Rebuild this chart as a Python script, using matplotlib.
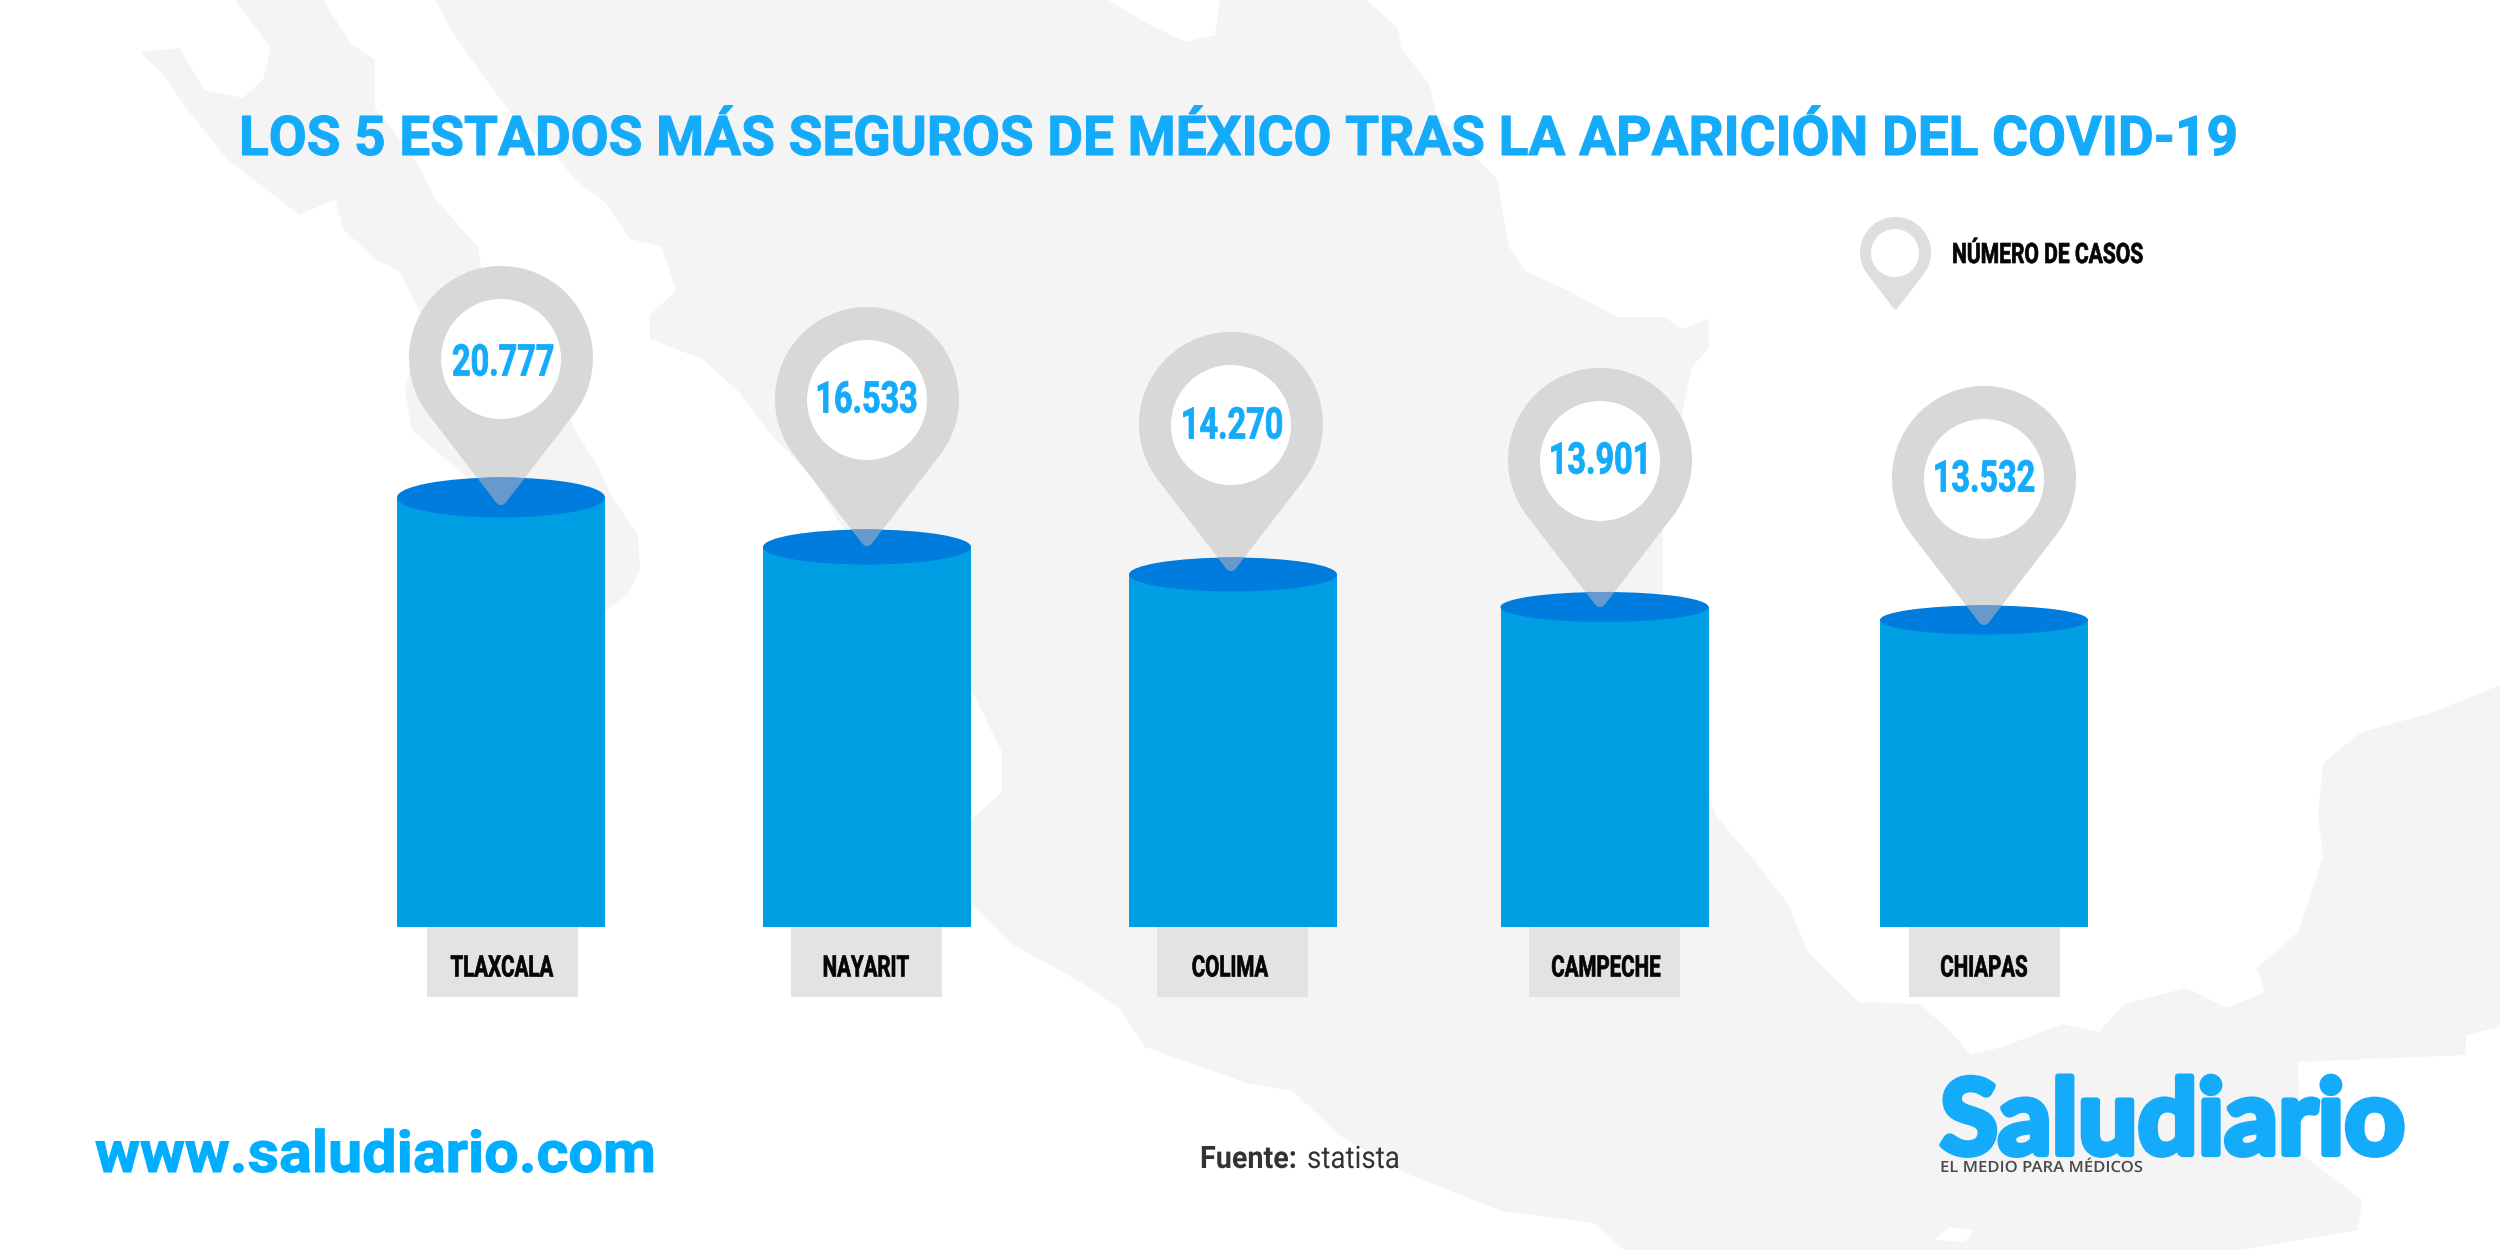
import numpy as np
import matplotlib
matplotlib.use("Agg")
import matplotlib.pyplot as plt
from matplotlib.patches import Ellipse, Circle, PathPatch, Polygon, Rectangle
from matplotlib.path import Path
from matplotlib.patheffects import AbstractPathEffect
from matplotlib.transforms import Affine2D

# ---------- data ----------
states = ["TLAXCALA", "NAYARIT", "COLIMA", "CAMPECHE", "CHIAPAS"]
cases = [20777, 16533, 14270, 13901, 13532]
drawn_bar_heights = [429.5, 380, 352.5, 320, 307]   # the source bars are not to scale with the cases

title = "LOS 5 ESTADOS MÁS SEGUROS DE MÉXICO TRAS LA APARICIÓN DEL COVID-19"
legend_label = "NÚMERO DE CASOS"
website = "www.saludiario.com"
source_bold, source_plain = "Fuente:", "statista"
brand, tagline = "Saludiario", "EL MEDIO PARA MÉDICOS"

# ---------- layout (pixels of the 2500x1250 canvas) ----------
BASE = 927
BAR_W = 208
bar_x = [501, 867, 1233, 1604.5, 1984]
cap_semi = [20, 17.5, 17, 15, 14.5]
pin_x = [501, 867, 1231, 1600, 1984]
pin_cy = [358, 399, 424, 460, 478]
val_x = [503, 866.5, 1232, 1600, 1984]
val_y = [360, 397, 423, 458, 476]
box_x = [502.5, 866.5, 1232.5, 1604.5, 1984.5]
lab_x = [502, 866, 1230, 1606, 1984]

C_TITLE = "#14ABFB"
C_BAR = "#009FE3"
C_CAP = "#007CDF"
C_MAP = "#F4F4F4"
C_BOX = "#E3E3E3"
C_PIN = "#D8D8D8"
C_PIN_ON_CAP = "#6699CC"

baja = [(235, 0), (271, 48), (263, 80), (243, 98), (205, 90), (179, 48), (140, 52), (163, 74), (179, 98),
        (191, 114), (227, 159), (263, 187), (299, 215), (335, 199), (343, 229), (375, 259), (399, 271),
        (423, 319), (405, 390), (412, 430), (470, 480), (560, 540), (606, 610), (628, 594), (640, 570),
        (638, 535), (612, 497), (600, 470), (575, 430), (540, 350), (495, 300), (482, 271), (478, 247), (435, 199),
        (415, 159), (375, 108), (375, 60), (351, 44), (323, 0)]
mainland = [(435, 0), (1108, 0), (1150, 25), (1185, 42), (1215, 35), (1220, 0), (1366, 0), (1398, 28),
            (1401, 48), (1429, 84), (1437, 116), (1473, 155), (1497, 179), (1509, 247), (1525, 271),
            (1569, 291), (1617, 317), (1665, 317), (1681, 329), (1709, 319), (1709, 347), (1692, 367),
            (1681, 418), (1663, 518), (1663, 598), (1670, 620), (1690, 740), (1716, 816), (1757, 864),
            (1788, 904), (1808, 952), (1859, 1002), (1920, 1004), (1951, 1032), (1971, 1055), (2002, 1047),
            (2063, 1024), (2099, 1032), (2124, 1004), (2186, 988), (2227, 1008), (2265, 992), (2257, 968),
            (2298, 932), (2308, 904), (2323, 856), (2318, 816), (2323, 764), (2359, 733), (2431, 713),
            (2500, 685), (2500, 1027), (2466, 1035), (2466, 1055), (2298, 1062), (2300, 1153), (2336, 1180),
            (2362, 1200), (2358, 1230), (2240, 1250), (1624, 1250), (1594, 1223), (1502, 1211), (1410, 1175),
            (1339, 1135), (1293, 1091), (1247, 1083), (1145, 1047), (1119, 1008), (1084, 984), (1012, 944),
            (971, 904), (971, 820), (1002, 792), (1002, 752), (971, 689), (960, 680), (880, 590), (813, 478),
            (774, 438), (738, 391), (702, 359), (650, 339), (650, 315), (676, 291), (662, 247), (630, 239),
            (606, 203), (574, 179), (550, 147), (510, 112), (486, 80), (455, 36)]
lake = [(1934, 1240), (1950, 1227), (1974, 1230), (1965, 1242)]

fig = plt.figure(figsize=(25, 12.5), dpi=100, facecolor="white")
ax = fig.add_axes([0, 0, 1, 1])
ax.set_xlim(0, 2500)
ax.set_ylim(1250, 0)
ax.axis("off")
renderer = fig.canvas.get_renderer()


class Squeeze(AbstractPathEffect):
    """Scale glyphs horizontally about x0 (display px); optionally fatten them."""

    def __init__(self, sx, x0, stroke=0.0):
        super().__init__()
        self.sx, self.x0, self.stroke = sx, x0, stroke

    def draw_path(self, rend, gc, tpath, affine, rgbFace):
        aff = affine + Affine2D().translate(-self.x0, 0).scale(self.sx, 1).translate(self.x0, 0)
        gc0 = rend.new_gc()
        gc0.copy_properties(gc)
        if self.stroke:
            gc0.set_linewidth(self.stroke)
            gc0.set_foreground(rgbFace)
            gc0.set_joinstyle("round")
        else:
            gc0.set_linewidth(0)
        rend.draw_path(gc0, tpath, aff, rgbFace)
        gc0.restore()


def natural_width(s, size, **kw):
    t = ax.text(0, 0, s, fontsize=size, **kw)
    w = t.get_window_extent(renderer).width
    t.remove()
    return w


def put(x, base, s, size, sx, ha="center", stroke=0.0, **kw):
    t = ax.text(x, base, s, va="baseline", ha=ha, fontsize=size, zorder=7, **kw)
    x0 = ax.transData.transform((x, base))[0]
    t.set_path_effects([Squeeze(sx, x0, stroke)])
    return t


def pin_path(cx, cy, r, tip=1.6, rho=0.065):
    """Circle head, two tangents and a small rounded tip, all relative to r."""
    apex = tip - rho + rho * tip
    a = np.arccos(1 / apex)
    head = np.linspace(np.pi / 2 + a, 2.5 * np.pi - a, 90)
    pts = [(cx + r * np.cos(t), cy + r * np.sin(t)) for t in head]
    tc = cy + r * (apex - rho * apex)
    tipang = np.linspace(np.pi / 2 - a, np.pi / 2 + a, 10)
    pts += [(cx + r * rho * np.cos(t), tc + r * rho * np.sin(t)) for t in tipang]
    return Path(pts + [pts[0]], closed=True)


ax.add_patch(Polygon(mainland, closed=True, fc=C_MAP, ec="none", zorder=1))
ax.add_patch(Polygon(baja, closed=True, fc=C_MAP, ec="none", zorder=1))
ax.add_patch(Polygon(lake, closed=True, fc="white", ec="none", zorder=1.1))

# bars
ax.bar(bar_x, [-h for h in drawn_bar_heights], bottom=BASE, width=BAR_W, color=C_BAR, linewidth=0, zorder=3)
caps = []
for x, h, s in zip(bar_x, drawn_bar_heights, cap_semi):
    caps.append(ax.add_patch(Ellipse((x, BASE - h), BAR_W, 2 * s, fc=C_CAP, ec="none", zorder=4.5)))

# category boxes and labels
ROB = dict(family="Roboto", fontweight="bold")
lab_size = 21.3
lab_sx = 103 / natural_width(states[0], lab_size, **ROB)
for x, lx, name in zip(box_x, lab_x, states):
    ax.add_patch(Rectangle((x - 75.5, BASE), 151, 70, fc=C_BOX, ec="none", zorder=2))
    put(lx, 976.5, name, lab_size, lab_sx, stroke=0.5, color="#050505", **ROB)

# pins and values
val_size = 31.4
val_sx = 102 / natural_width("20.777", val_size, **ROB)
for px, cy, vx, vy, v, cap in zip(pin_x, pin_cy, val_x, val_y, cases, caps):
    pin = pin_path(px, cy, 92)
    ax.add_patch(PathPatch(pin, fc=C_PIN, ec="none", zorder=4))
    tip = ax.add_patch(PathPatch(pin, fc=C_PIN_ON_CAP, ec="none", zorder=5))
    tip.set_clip_path(cap)
    ax.add_patch(Circle((px, cy + 1), 60, fc="white", ec="none", zorder=6))
    put(vx, vy + 15.5, f"{v:,}".replace(",", "."), val_size, val_sx, stroke=0.6, color=C_TITLE, **ROB)

# legend
ax.add_patch(PathPatch(pin_path(1895.5, 252.5, 35.5), fc="#DEDEDE", ec="none", zorder=5))
ax.add_patch(Circle((1895, 253), 24, fc="white", ec="none", zorder=6))
size = 20.2
put(1952, 263, legend_label, size, 191 / natural_width(legend_label, size, **ROB), ha="left", stroke=0.5,
    color="#050505", **ROB)

# title and footer
size = 39.5
put(239, 155, title, size, 2000 / natural_width(title, size, **ROB), ha="left", stroke=0.8, color=C_TITLE, **ROB)
size = 41.5
put(95, 1172, website, size, 561 / natural_width(website, size, **ROB), ha="left", stroke=0.8, color="#00AEFF", **ROB)
size = 22.3
put(1200, 1168, source_bold, size, 97 / natural_width(source_bold, size, **ROB), ha="left", color="#333333", **ROB)
put(1307, 1168, source_plain, size, 93 / natural_width(source_plain, size, family="Roboto"), ha="left",
    family="Roboto", color="#333333")
size = 75
LOGO = dict(family="Lato", fontweight="bold")
put(1940, 1154, brand, size, 465 / natural_width(brand, size, **LOGO), ha="left", stroke=4.5, color=C_TITLE, **LOGO)
size = 11.1
TAG = dict(family="Open Sans", fontweight="semibold")
put(1940, 1172, tagline, size, 203 / natural_width(tagline, size, **TAG), ha="left", color="#4A4A4A", **TAG)

fig.savefig("out.png", dpi=100, facecolor="white")
